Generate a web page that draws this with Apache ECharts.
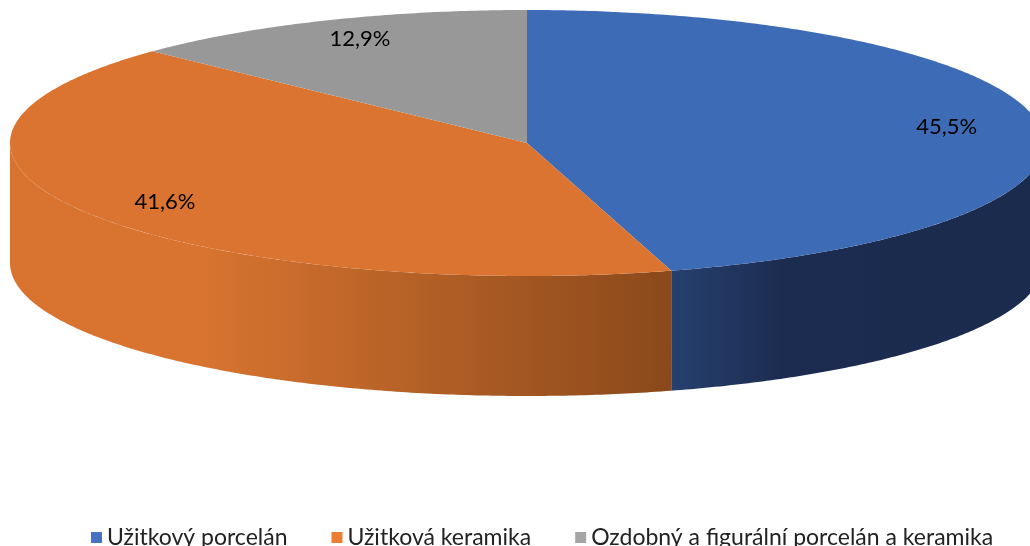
<!DOCTYPE html>
<html>
<head>
<meta charset="utf-8">
<script src="https://cdn.jsdelivr.net/npm/echarts@6/dist/echarts.min.js"></script>
<style>
  html, body { margin: 0; padding: 0; background: #fff; }
  #chart { width: 1030px; height: 546px; }
</style>
</head>
<body>
<div id="chart"></div>
<script>
var categories = ['Užitkový porcelán', 'Užitková keramika', 'Ozdobný a figurální porcelán a keramika']
var shares = [45.5, 41.6, 12.9]
var labels = ['45,5%', '41,6%', '12,9%']

var legendColors = ['#4472C4', '#ED7D31', '#A5A5A5']
var topColors = ['#3e6bb5', '#db7430', '#989898']
// side shading, light to dark
var sideStops = [
  [[0, '#26406f'], [0.3, '#1c2c50'], [1, '#1b2b4e']],
  [[0, '#d87430'], [0.29, '#d87430'], [1, '#8a491b']],
  [[0, '#8a8a8a'], [1, '#5a5a5a']]
]

// ellipse geometry of the top face
var cx = 527, cy = 143, rx = 517, ry = 133, depth = 120
var total = shares.reduce(function (a, b) { return a + b }, 0)

function pt (t, dy) {
  return [cx + rx * Math.sin(t), cy - ry * Math.cos(t) + (dy || 0)]
}

function arc (a, b, dy) {
  var pts = []
  var n = Math.max(2, Math.ceil((b - a) / 0.01))
  for (var i = 0; i <= n; i++) {
    pts.push(pt(a + (b - a) * i / n, dy))
  }
  return pts
}

function renderSlice (params, api) {
  var idx = params.seriesIndex
  var before = 0
  for (var i = 0; i < idx; i++) before += shares[i]
  var a = before / total * Math.PI * 2
  var b = a + api.value(0) / total * Math.PI * 2
  var children = []

  // front side wall (only the lower half of the ellipse shows)
  var sa = Math.max(a, Math.PI / 2)
  var sb = Math.min(b, Math.PI * 1.5)
  if (sb > sa) {
    var topArc = arc(sa, sb, 0)
    var botArc = arc(sa, sb, depth).reverse()
    children.push({
      type: 'polygon',
      shape: { points: topArc.concat(botArc) },
      style: {
        fill: {
          type: 'linear', x: 0, y: 0, x2: 1, y2: 0,
          colorStops: sideStops[idx].map(function (s) { return { offset: s[0], color: s[1] } })
        }
      }
    })
  }

  // top face
  children.push({
    type: 'polygon',
    shape: { points: [[cx, cy]].concat(arc(a, b, 0)) },
    style: { fill: topColors[idx] }
  })

  // data label
  var m = (a + b) / 2
  children.push({
    type: 'text',
    style: {
      x: cx + rx * 0.82 * Math.sin(m),
      y: cy - ry * 0.85 * Math.cos(m),
      text: labels[idx],
      fill: '#000',
      font: '22px Lato',
      align: 'center',
      verticalAlign: 'middle'
    }
  })

  return { type: 'group', children: children }
}

var chart = echarts.init(document.getElementById('chart'))
chart.setOption({
  animation: false,
  legend: {
    data: categories,
    top: 521,
    left: 86,
    itemWidth: 11,
    itemHeight: 11,
    itemGap: 44,
    icon: 'rect',
    textStyle: { fontFamily: 'Lato', fontSize: 23, color: '#222' }
  },
  series: categories.map(function (name, i) {
    return {
      name: name,
      type: 'custom',
      coordinateSystem: 'none',
      itemStyle: { color: legendColors[i] },
      renderItem: renderSlice,
      data: [[shares[i]]]
    }
  })
})
</script>
</body>
</html>
